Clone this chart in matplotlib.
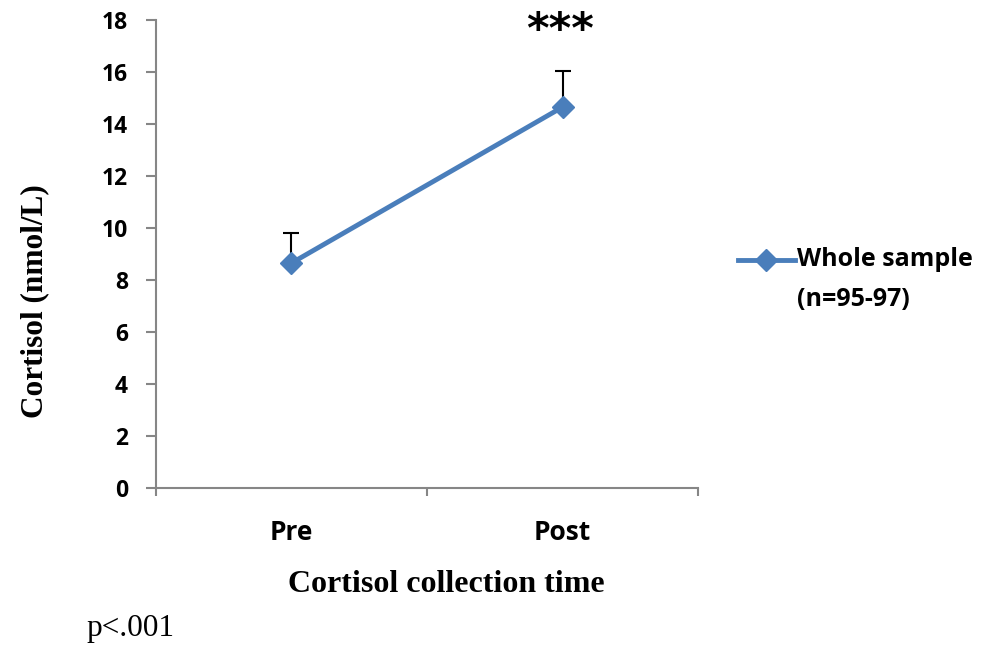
import matplotlib.pyplot as plt
from matplotlib.lines import Line2D

times = ["Pre", "Post"]
cortisol = [8.65, 14.65]
err_up = [1.15, 1.4]
series_label = ["Whole sample", "(n=95-97)"]

blue = "#4a7ebb"
gray = "#868686"
sans = "Open Sans"
serif = "Liberation Serif"

fig = plt.figure(figsize=(9.93, 6.46), dpi=100)
ax = fig.add_axes([0.157, 0.2446, 0.546, 0.7245])

x = [0.5, 1.5]
ax.errorbar(x, cortisol, yerr=[[0, 0], err_up], fmt="none", ecolor="black",
            elinewidth=1.5, capsize=6, capthick=1.5, zorder=2)
ax.plot(x, cortisol, color=blue, lw=3.5, marker="D", ms=11, zorder=3)

ax.set_xlim(0, 2)
ax.set_ylim(0, 18)
ax.set_yticks(range(0, 19, 2))
ax.set_xticks([0, 1, 2])
ax.set_xticklabels([])
ax.set_xticks(x, minor=True)
ax.set_xticklabels(times, minor=True, fontsize=19, fontweight="bold", family=sans)
ax.tick_params(axis="x", which="minor", length=0, pad=22)
ax.tick_params(axis="x", which="major", length=6, color=gray, width=1.5, direction="out")
ax.tick_params(axis="y", length=7, color=gray, width=1.5, pad=13)
for lab in ax.get_yticklabels():
    lab.set_fontsize(16.5)
    lab.set_fontweight("bold")
    lab.set_family(sans)

for s in ["top", "right"]:
    ax.spines[s].set_visible(False)
for s in ["left", "bottom"]:
    ax.spines[s].set_color(gray)
    ax.spines[s].set_linewidth(1.5)

ax.set_ylabel("Cortisol (nmol/L)", fontsize=22.5, fontweight="bold", family=serif)
ax.yaxis.set_label_coords(-0.196, 0.40)
ax.set_xlabel("Cortisol collection time", fontsize=23, fontweight="bold", family=serif)
ax.xaxis.set_label_coords(0.535, -0.176)

ax.text(1.49, 17.58, "***", ha="center", va="center", fontsize=31, fontweight="bold",
        family="DejaVu Sans")

# legend drawn by hand so the sample sits on the first text line
ly = 1 - 260 / 646
fig.add_artist(Line2D([738 / 993, 795 / 993], [ly, ly], transform=fig.transFigure,
                      color=blue, lw=3.5))
fig.add_artist(Line2D([766 / 993], [ly], transform=fig.transFigure,
                      color=blue, marker="D", ms=11))
fig.text(797 / 993, ly, series_label[0], va="center", fontsize=18, fontweight="bold", family=sans)
fig.text(797 / 993, 1 - 299 / 646, series_label[1], va="center", fontsize=18,
         fontweight="bold", family=sans)

fig.text(0.087, 0.016, "p<.001", fontsize=22.5, family=serif)

fig.savefig("out.png", dpi=100)
